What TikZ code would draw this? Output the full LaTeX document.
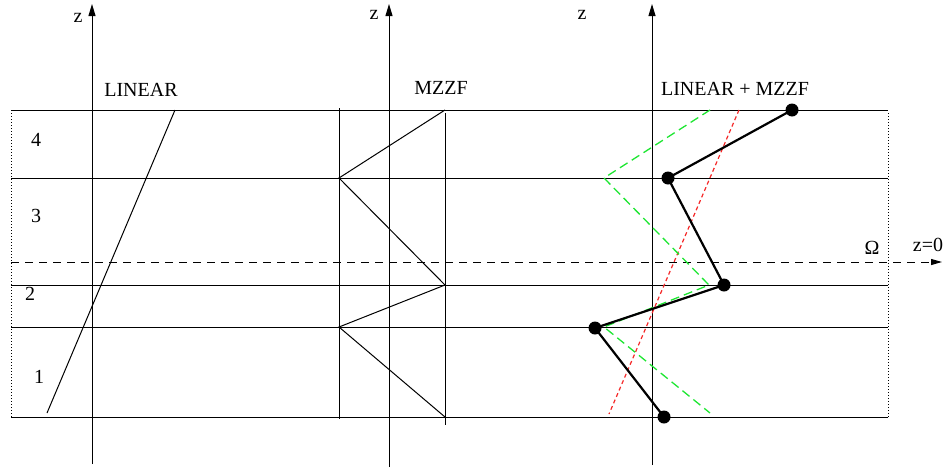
\documentclass[tikz,border=0pt]{standalone}
\usepackage{fontspec}
\setmainfont{Liberation Serif}
\usetikzlibrary{arrows.meta}
\definecolor{green1}{RGB}{30,230,50}
\definecolor{red1}{RGB}{245,40,40}

\begin{document}
\begin{tikzpicture}[x=1pt, y=-1pt, line width=1pt,
    lbl/.style={font=\fontsize{20}{22}\selectfont, inner sep=0pt},
    zaxis/.style={-{Triangle[length=12pt,width=7pt]}},
    ptdot/.style={circle, fill=black, inner sep=0pt, minimum size=13pt}]
  \useasboundingbox (0,0) rectangle (949,469);

  % layer boundaries
  \foreach \y/\n in {110/4, 178/3, 285/2, 327/1, 417/0} {
    \coordinate (W\n) at (11,\y);
    \coordinate (E\n) at (888,\y);
    \draw (W\n) -- (E\n);
  }
  \draw[dotted] (W4) -- (W0);
  \draw[dotted] (888,113) -- (E0);

  % z axes
  \draw[zaxis] (92,464) -- (92,4);
  \draw[zaxis] (389,467) -- (389,4);
  \draw[zaxis] (652,465) -- (652,4);
  \node[lbl] (z1) at (78,18) {z};
  \node[lbl] (z2) at (374,15) {z};
  \node[lbl] (z3) at (582,15) {z};

  % z=0 plane
  \coordinate (om) at (11,262);
  \draw[dash pattern=on 8pt off 6pt, -{Triangle[length=11pt,width=6pt]}] (om) -- (942,262);
  \node[lbl] (omega) at (872,248) {Ω};
  \node[lbl] (zzero) at (928,245) {z=0};

  % layer numbers
  \node[lbl] (n4) at (36,140) {4};
  \node[lbl] (n3) at (36,216) {3};
  \node[lbl] (n2) at (30,294) {2};
  \node[lbl] (n1) at (39,377) {1};

  % linear
  \node[lbl] (lin) at (141,90) {LINEAR};
  \draw (175,110) -- (47,413);

  % mzzf
  \node[lbl] (mz) at (441,88) {MZZF};
  \draw (339,108) -- (339,419);
  \draw (445,113) -- (445,425);
  \draw (445,110) -- (339,178) -- (445,285) -- (339,327) -- (445,417);

  % linear + mzzf
  \node[lbl] (sum) at (735,89) {LINEAR + MZZF};
  \draw[red1, line width=1.2pt, dash pattern=on 4pt off 3pt] (739,110) -- (609,414);
  \draw[green1, line width=1.3pt, dash pattern=on 9pt off 5pt]
    (710,110) -- (604,178) -- (709,285) -- (604,327) -- (710,413);
  \node[ptdot] (p4) at (792,110) {};
  \node[ptdot] (p3) at (668,178) {};
  \node[ptdot] (p2) at (724,285) {};
  \node[ptdot] (p1) at (595,328) {};
  \node[ptdot] (p0) at (664,417) {};
  \draw[line width=2.2pt] (p4.center) -- (p3.center) -- (p2.center) -- (p1.center) -- (p0.center);
\end{tikzpicture}
\end{document}
